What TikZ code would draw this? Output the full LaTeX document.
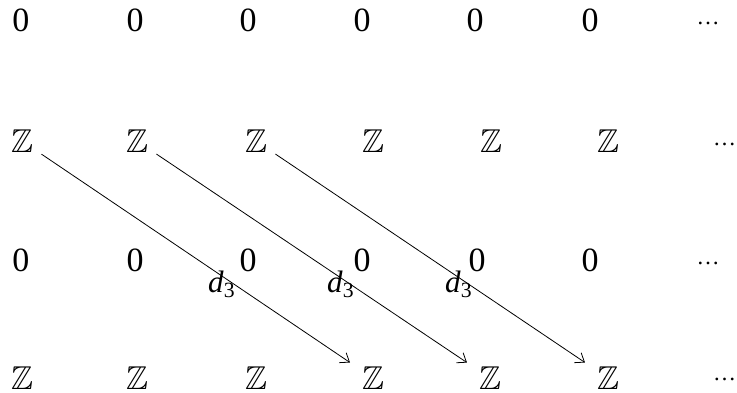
\documentclass[tikz,border=0pt]{standalone}
\usepackage{amssymb}
\usepackage{fontspec}
\setmainfont{Liberation Serif}
\usetikzlibrary{arrows.meta}
\begin{document}
\begin{tikzpicture}[x=1pt,y=-1pt,
  zero/.style={inner sep=0pt,font=\fontsize{34}{40}\selectfont},
  zz/.style={inner sep=6pt,font=\fontsize{33}{40}\selectfont},
  dts/.style={inner sep=0pt,yshift=-3pt,font=\fontsize{23}{28}\selectfont},
  lbl/.style={inner sep=0pt,font=\fontsize{31}{36}\selectfont},
  diff/.style={line width=0.8pt,shorten <=2.7pt,shorten >=7pt,
    -{Straight Barb[length=8pt,width=12pt,line width=0.8pt]}}]
\useasboundingbox (0,0) rectangle (737,392);
% row 1
\node[zero] (a1) at (21,20.5) {0};
\node[zero] (a2) at (135,20.5) {0};
\node[zero] (a3) at (248,20.5) {0};
\node[zero] (a4) at (362,20.5) {0};
\node[zero] (a5) at (475,20.5) {0};
\node[zero] (a6) at (590,20.5) {0};
\node[dts] (a7) at (708,20.5) {…};
% row 2
\node[zz] (b1) at (22,141) {$\mathbb{Z}$};
\node[zz] (b2) at (137,141) {$\mathbb{Z}$};
\node[zz] (b3) at (256,141) {$\mathbb{Z}$};
\node[zz] (b4) at (373,141) {$\mathbb{Z}$};
\node[zz] (b5) at (491,141) {$\mathbb{Z}$};
\node[zz] (b6) at (608,141) {$\mathbb{Z}$};
\node[dts] (b7) at (724.5,141) {…};
% row 3
\node[zero] (c1) at (21,260.5) {0};
\node[zero] (c2) at (135,260.5) {0};
\node[zero] (c3) at (248,260.5) {0};
\node[zero] (c4) at (362,260.5) {0};
\node[zero] (c5) at (477,260.5) {0};
\node[zero] (c6) at (590,260.5) {0};
\node[dts] (c7) at (708,260.5) {…};
% row 4
\node[zz] (e1) at (22,378) {$\mathbb{Z}$};
\node[zz] (e2) at (137,378) {$\mathbb{Z}$};
\node[zz] (e3) at (256,378) {$\mathbb{Z}$};
\node[zz] (e4) at (373,378) {$\mathbb{Z}$};
\node[zz] (e5) at (490,378) {$\mathbb{Z}$};
\node[zz] (e6) at (608,378) {$\mathbb{Z}$};
\node[dts,yshift=2pt] (e7) at (724.5,378) {…};
% differentials
\draw[diff] (b1) -- (e4);
\draw[diff] (b2) -- (e5);
\draw[diff] (b3) -- (e6);
\node[lbl,anchor=base west] (l1) at (208,292) {\textit{d}\textsubscript{3}};
\node[lbl,anchor=base west] (l2) at (327,292) {\textit{d}\textsubscript{3}};
\node[lbl,anchor=base west] (l3) at (445,292) {\textit{d}\textsubscript{3}};
\end{tikzpicture}
\end{document}
